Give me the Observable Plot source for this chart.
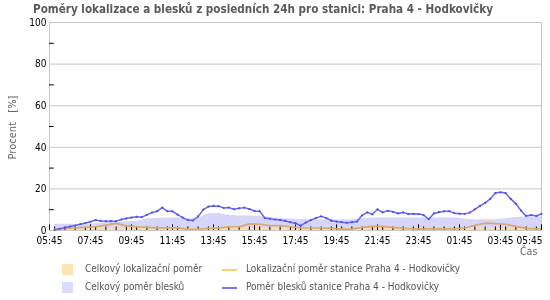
<!DOCTYPE html>
<html><head><meta charset="utf-8">
<script src="https://cdn.jsdelivr.net/npm/d3@7"></script>
<script src="https://cdn.jsdelivr.net/npm/@observablehq/plot@0.6"></script>
<style>
body{margin:0;background:#fff;width:550px;height:300px;overflow:hidden;position:relative;font-family:"DejaVu Sans Condensed","DejaVu Sans",sans-serif;}
#title{position:absolute;left:33px;top:2px;font-weight:bold;font-size:11.6px;color:#5a5a5a;white-space:nowrap;}
#chart{position:absolute;left:0;top:12px;}
#ylab{position:absolute;left:-28px;top:121px;width:80px;text-align:center;transform:rotate(-90deg);font-size:11px;color:#666;white-space:pre;}
#xlab{position:absolute;left:520px;top:245px;font-size:10.5px;color:#666;}
.lg{position:absolute;font-size:10px;color:#555;white-space:nowrap;}
.sw{position:absolute;width:11px;height:11px;}
.ln{position:absolute;width:15px;height:2px;}
</style></head><body>
<div id="title">Poměry lokalizace a blesků z posledních 24h pro stanici: Praha 4 - Hodkovičky</div>
<div id="chart"></div>
<div id="ylab">Procent   [%]</div>
<div id="xlab">Čas</div>
<div id="legend"></div>
<script>
// ---- data ----
const domainStart = "2024-01-01T05:45:00Z";
const domainEnd = "2024-01-02T05:45:00Z";
const fineStart = "2024-01-01T06:00:00Z";   // 15-minute series
const coarseStart = "2024-01-01T06:00:00Z"; // 30-minute series
const tickLabels = ["05:45","07:45","09:45","11:45","13:45","15:45","17:45","19:45","21:45","23:45","01:45","03:45","05:45"];
const yTicks = [0,20,40,60,80,100];
const yMinor = [10,30,50,70,90];
const legendLabels = ["Celkový lokalizační poměr","Lokalizační poměr stanice Praha 4 - Hodkovičky","Celkový poměr blesků","Poměr blesků stanice Praha 4 - Hodkovičky"];

// Poměr blesků stanice (15 min)
const stationLightning = [
 0.3,0.8,1.3,1.9, 2.4,3.0,3.6,4.2, 5.0,4.6,4.5,4.5, 4.5,5.3,5.8,6.2,
 6.6,6.4,7.5,8.6, 9.3,11.0,9.2,9.2, 7.6,6.2,5.0,4.8, 6.8,10.0,11.5,11.8,
 11.7,10.8,11.0,10.2, 10.7,11.0,10.3,9.4, 9.3,6.0,5.6,5.3, 5.0,4.6,4.0,3.5,
 2.3,3.8,5.0,6.0, 6.8,6.0,4.7,4.3, 4.0,3.7,4.0,4.3, 7.3,8.7,7.8,10.2,
 8.7,9.5,9.0,8.2, 8.7,7.9,8.0,7.9, 7.4,5.4,8.2,8.8, 9.2,9.3,8.3,8.1,
 8.0,8.6,10.2,11.8, 13.3,15.2,18.0,18.4, 18.0,15.2,12.8,9.6, 7.0,7.4,7.0,8.0
];
// Celkový poměr blesků (30 min)
const totalLightning = [
 3.0,3.0, 3.0,3.0, 3.3,3.8, 3.8,4.2, 4.5,5.5, 5.8,6.0, 6.0,5.5, 5.8,8.0,
 8.2,7.3, 7.0,7.0, 6.8,6.3, 5.7,5.5, 5.3,5.2, 5.2,5.2, 5.0,5.2, 5.8,6.0,
 6.0,6.0, 6.0,6.0, 6.0,6.0, 6.0,6.0, 5.5,5.2, 5.2,5.2, 5.7,6.3, 6.5,6.5, 6.5
];
// Lokalizační poměr stanice (30 min)
const stationLocal = [
 0.5,1.0, 1.2,1.5, 1.8,2.6, 3.4,2.2, 1.8,1.5, 1.3,1.3, 1.3,0.6, 0.6,1.0,
 1.3,1.8, 1.8,3.2, 3.0,2.3, 2.3,1.8, 1.3,1.2, 1.2,1.0, 0.7,0.7, 1.5,2.0,
 2.0,1.5, 1.0,0.8, 0.8,0.8, 0.8,0.8, 1.2,2.5, 3.5,3.3, 3.0,2.0, 1.0,0.8, 0.8
];
// Celkový lokalizační poměr (30 min)
const totalLocal = [
 1.0,1.0, 1.0,1.1, 1.2,1.3, 1.4,1.4, 1.3,1.3, 1.2,1.2, 1.2,1.1, 1.0,1.1,
 1.3,1.4, 1.5,1.6, 1.6,1.5, 1.4,1.3, 1.2,1.1, 1.0,1.0, 1.0,1.0, 1.2,1.3,
 1.3,1.2, 1.1,1.0, 1.0,1.0, 1.0,1.0, 1.1,1.3, 1.5,1.5, 1.4,1.2, 1.0,1.0, 1.0
];

// ---- build tables ----
const MIN = 60000;
const t0 = new Date(domainStart), t1 = new Date(domainEnd);
const series = (vals, start, stepMin) => vals.map((v, i) => ({t: new Date(+new Date(start) + i*stepMin*MIN), v}));
const blue = series(stationLightning, fineStart, 15);
const lav = series(totalLightning, coarseStart, 30);
const orange = series(stationLocal, coarseStart, 30);
const peach = series(totalLocal, coarseStart, 30);
const majorTicks = tickLabels.map((l, i) => new Date(+t0 + i*120*MIN));
const labelOf = new Map(majorTicks.map((d, i) => [+d, tickLabels[i]]));
const minorTicks = d3.utcMinute.every(30).range(new Date(+t0 + MIN), t1).filter(d => !labelOf.has(+d));
const lastTick = majorTicks[majorTicks.length - 1];

const chart = Plot.plot({
  width: 550, height: 245,
  marginTop: 10, marginBottom: 27, marginLeft: 49, marginRight: 9,
  style: {fontFamily: "'DejaVu Sans Condensed','DejaVu Sans',sans-serif", fontSize: "10px", color: "#000", background: "transparent"},
  x: {type: "utc", domain: [t0, t1], label: null},
  y: {domain: [0, 100], label: null},
  marks: [
    Plot.areaY(lav, {x: "t", y: "v", fill: "#d6d6fa", clip: true}),
    Plot.areaY(peach, {x: "t", y: "v", fill: "#f7dcb8", mixBlendMode: "multiply", clip: true}),
    Plot.ruleY(yTicks.slice(1), {stroke: "#c8c8c8", strokeWidth: 1}),
    Plot.frame({stroke: "#c8c8c8"}),
    Plot.ruleY(yMinor, {x1: t0, x2: new Date(+t0 + 14*MIN), stroke: "#000"}),
    Plot.ruleX(minorTicks, {x: d => d, y1: 0, y2: 1.7, stroke: "#000"}),
    Plot.ruleX(majorTicks, {x: d => d, y1: 0, y2: 2.7, stroke: "#000"}),
    Plot.lineY(orange, {x: "t", y: "v", stroke: "#dca66c", strokeWidth: 1.7, clip: true}),
    Plot.lineY(blue, {x: "t", y: "v", stroke: "#6666f4", strokeWidth: 1.5}),
    Plot.dot(blue, {x: "t", y: "v", r: 1.1, fill: "#4f4fe8", stroke: "none"}),
    Plot.axisY({ticks: yTicks, tickSize: 0, tickPadding: 3}),
    Plot.axisX({ticks: majorTicks.slice(0, -1), tickFormat: d => labelOf.get(+d), tickSize: 0, tickPadding: 6}),
    Plot.axisX({ticks: [lastTick], tickFormat: d => labelOf.get(+d), tickSize: 0, tickPadding: 6, textAnchor: "end", dx: 1})
  ]
});
document.getElementById("chart").appendChild(chart);

// ---- legend ----
const lg = document.getElementById("legend");
const items = [
  {kind: "sw", color: "#ffe4b5", x: 62, y: 264, tx: 85, label: legendLabels[0]},
  {kind: "ln", color: "#ffcc77", x: 222, y: 269, tx: 246, label: legendLabels[1]},
  {kind: "sw", color: "#dcdcfc", x: 62, y: 282, tx: 85, label: legendLabels[2]},
  {kind: "ln", color: "#7777ff", x: 222, y: 287, tx: 246, label: legendLabels[3]}
];
for (const it of items) {
  const s = document.createElement("div");
  s.className = it.kind;
  s.style.left = it.x + "px"; s.style.top = it.y + "px"; s.style.background = it.color;
  lg.appendChild(s);
  const t = document.createElement("div");
  t.className = "lg"; t.textContent = it.label;
  t.style.left = it.tx + "px"; t.style.top = (it.kind === "sw" ? it.y - 1 : it.y - 6) + "px";
  lg.appendChild(t);
}
</script>
</body></html>
